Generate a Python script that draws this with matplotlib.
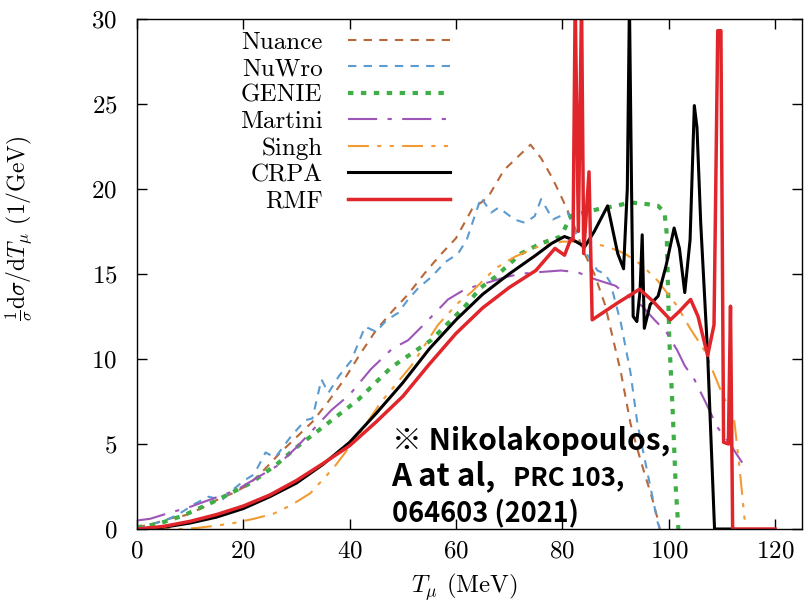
import numpy as np
import matplotlib
matplotlib.use("Agg")
import matplotlib.pyplot as plt

# Muon kinetic energy distributions
nuance_x = [0, 3, 6, 9, 12, 15, 18, 21, 24, 27, 30, 33, 36, 39, 42, 45, 48, 51, 54, 57, 60,
            63, 66, 69, 72, 74, 76, 78, 80, 82, 84, 86, 88, 89.5, 91, 92.8, 94, 95.4, 96.7, 97.9, 98.3]
nuance_y = [0.1, 0.3, 0.6, 0.8, 1.2, 1.7, 2.1, 2.6, 3.5, 4.5, 5.4, 6.3, 7.5, 8.8, 10.3, 11.7, 12.8, 13.8, 15.0, 16.1, 17.1,
            18.8, 19.5, 21.1, 22.0, 22.6, 21.8, 20.7, 19.4, 18.0, 16.3, 15.0, 13.2, 11.2, 9.2, 6.2, 4.8, 3.3, 2.0, 0.6, 0.0]

nuwro_x = [0, 3, 5.4, 8, 11, 13.5, 16, 18, 20.4, 22, 24.2, 26, 29.1, 31.7, 33, 34.7, 36, 38, 40.3, 42.9, 45, 47,
           49.1, 51, 53, 55.3, 58, 60.4, 62, 64.7, 66.6, 68, 71, 73, 74.8, 76, 78.2, 81, 83, 85.3, 86.6, 88, 89,
           91, 92.8, 94.1, 96, 97.9, 98.3]
nuwro_y = [0, 0.3, 0.5, 0.9, 1.5, 1.9, 1.7, 2.3, 2.9, 3.2, 4.5, 4.2, 5.5, 6.4, 6.5, 8.8, 8.0, 9.0, 9.9, 11.9, 11.6, 12.3,
           12.7, 13.5, 14.2, 14.8, 15.7, 16.2, 17.0, 19.5, 18.6, 18.9, 18.2, 18.0, 18.4, 19.4, 18.2, 18.6, 17.0, 15.8, 15.2, 15.0, 14.5,
           12.1, 9.2, 6.2, 3.3, 0.4, 0.0]

genie_x = [0, 4, 8.8, 14.4, 21.4, 26.3, 30, 35, 41.6, 47.8, 55.3, 61.7, 64.7, 67.3, 72.2, 76, 79.7, 81.6, 84,
           86.6, 90, 92.8, 96, 98, 99.2, 99.6, 100.1, 100.7, 101.3, 101.8]
genie_y = [0.1, 0.3, 0.8, 1.6, 2.7, 3.8, 4.8, 6.0, 7.6, 9.5, 11.1, 13.1, 14.2, 14.8, 16.2, 16.8, 17.2, 18.4, 18.6,
           18.8, 19.0, 19.2, 19.1, 19.0, 18.6, 17.4, 11.1, 7.2, 2.5, 0.0]

martini_x = [0, 2.5, 5.6, 10, 14.4, 18.8, 22.5, 26.3, 30, 33, 36.6, 40, 44, 48, 51, 54.2, 58.5, 61.7, 65, 69.2,
             72, 75.4, 79.7, 82.9, 85, 88, 90, 92.3, 95, 97.3, 99.5, 101.6, 103, 104.8, 107, 109.1, 111.5, 113.8]
martini_y = [0.5, 0.6, 0.9, 1.3, 1.8, 2.3, 3.0, 3.7, 4.8, 5.8, 7.0, 7.9, 9.4, 10.6, 11.1, 12.1, 13.5, 14.1, 14.4, 14.8,
             15.0, 15.1, 15.2, 15.1, 14.8, 14.5, 14.3, 13.7, 13.1, 12.3, 11.6, 10.5, 9.6, 8.8, 7.4, 6.0, 5.0, 3.9]

singh_x = [0, 8, 11, 15, 18.2, 22, 25.7, 29, 32.6, 37, 41.6, 46, 51.6, 56.6, 60.4, 62.8, 67.3, 71, 75.4, 80,
           84, 88.5, 91.7, 95, 97.9, 101.6, 104, 106.7, 109.7, 112.3, 113.4, 114.2, 114.6]
singh_y = [0, 0, 0.05, 0.2, 0.35, 0.6, 0.9, 1.4, 2.1, 3.6, 5.5, 7.5, 9.6, 12.0, 13.3, 13.9, 15.3, 16.0, 16.6, 16.9,
           16.9, 16.6, 16.2, 15.5, 14.6, 13.1, 11.8, 10.5, 8.2, 6.4, 3.3, 0.7, 0.0]

crpa_x = [0, 5, 10, 15, 20, 25, 30, 35, 40, 45, 50, 55, 60, 65, 70, 75, 78, 80.4, 82, 84.2, 86, 88.5, 90.4, 91.5,
          92.2, 92.6, 93.0, 93.3, 94, 94.6, 95.0, 95.4, 96.5, 98, 99.5, 101, 102, 103, 104, 104.8, 105.3, 106,
          107.3, 108.6, 112]
crpa_y = [0, 0.1, 0.35, 0.7, 1.2, 1.9, 2.7, 3.8, 5.1, 6.8, 8.6, 10.6, 12.3, 13.8, 15.0, 16.1, 16.8, 17.2, 17.0, 16.6, 17.5, 19.0, 16.2, 15.3,
          20.0, 31.0, 20.0, 12.5, 12.2, 14.0, 17.3, 11.8, 13.2, 13.7, 15.5, 17.7, 16.5, 13.9, 17.0, 24.9, 23.6, 18.0,
          10.3, 0.0, 0.0]

rmf_x = [0, 5, 10, 15, 20, 25, 30, 35, 40, 45, 50, 55, 60, 65, 70, 75, 78.6, 80.4, 81.5, 82.0, 82.4, 83.0, 83.6,
         84.0, 85.0, 85.6, 90.4, 94.5, 97, 100.3, 102, 104.1, 105.5, 107.3, 108.5, 109.2, 109.8, 110.3, 111.2,
         111.6, 112, 120]
rmf_y = [0, 0.15, 0.45, 0.85, 1.35, 2.0, 2.85, 3.85, 4.9, 6.3, 7.8, 9.7, 11.5, 13.0, 14.2, 15.2, 16.5, 16.1, 17.0, 17.0, 31.0, 17.5, 31.0,
         16.2, 21.0, 12.3, 13.3, 14.1, 13.4, 12.3, 12.8, 13.5, 12.5, 10.2, 12.0, 29.3, 29.3, 5.1, 5.0,
         13.1, 0.0, 0.0]

plt.rcParams['font.family'] = 'serif'
plt.rcParams['font.serif'] = ['cmr10', 'DejaVu Serif']
plt.rcParams['mathtext.fontset'] = 'cm'
plt.rcParams['axes.formatter.use_mathtext'] = True
plt.rcParams['axes.unicode_minus'] = False

fig = plt.figure(figsize=(8.05, 6.07), dpi=100)
ax = fig.add_axes([0.170, 0.1285, 0.826, 0.8405])

ax.plot(nuance_x, nuance_y, color='#b8683a', lw=1.5, ls=(0, (4, 3.5)), label='Nuance')
ax.plot(nuwro_x, nuwro_y, color='#5b9bd0', lw=1.5, ls=(0, (4, 3.5)), label='NuWro')
ax.plot(genie_x, genie_y, color='#3fae46', lw=3, ls=(0, (1.3, 1.8)), label='GENIE')
ax.plot(martini_x, martini_y, color='#9d55b8', lw=1.5, ls=(0, (14, 5, 2, 5)), label='Martini')
ax.plot(singh_x, singh_y, color='#f29b35', lw=1.5, ls=(0, (10, 4, 2, 4, 2, 4)), label='Singh')
ax.plot(crpa_x, crpa_y, color='black', lw=2.2, label='CRPA')
ax.plot(rmf_x, rmf_y, color='#e0262b', lw=2.5, label='RMF')

ax.set_xlim(0, 125)
ax.set_ylim(0, 30)
ax.set_xticks(np.arange(0, 121, 20))
ax.set_yticks(np.arange(0, 31, 5))
ax.tick_params(direction='in', length=7, width=1, top=True, right=True, labelsize=18)
ax.tick_params(axis='x', pad=8)
ax.tick_params(axis='y', pad=14)
for s in ax.spines.values():
    s.set_linewidth(1)

ax.set_xlabel(r'$T_\mu$ (MeV)', fontsize=18)
ax.xaxis.set_label_coords(0.493, -0.082)
ax.set_ylabel(r'$\frac{1}{\sigma}\mathrm{d}\sigma/\mathrm{d}T_\mu$ (1/GeV)', fontsize=17)
ax.yaxis.set_label_coords(-0.153, 0.59)

leg = ax.legend(loc='upper right', bbox_to_anchor=(0.471, 0.976), markerfirst=False, frameon=False,
                fontsize=18, handlelength=4.1, handletextpad=1.0, labelspacing=0.16,
                borderpad=0, borderaxespad=0)

# citation overlay
note_font = ['Noto Sans CJK KR', 'DejaVu Sans']
ax.text(0.383, 0.155, '※ Nikolakopoulos,', transform=ax.transAxes, fontsize=21.5,
        fontweight='bold', family=note_font)
ax.text(0.383, 0.086, 'A at al,', transform=ax.transAxes, fontsize=22.5,
        fontweight='bold', family=note_font)
ax.text(0.565, 0.086, 'PRC 103,', transform=ax.transAxes, fontsize=18.5,
        fontweight='bold', family=note_font)
ax.text(0.383, 0.014, '064603 (2021)', transform=ax.transAxes, fontsize=19.5,
        fontweight='bold', family=note_font)

fig.savefig('out.png', dpi=100)
